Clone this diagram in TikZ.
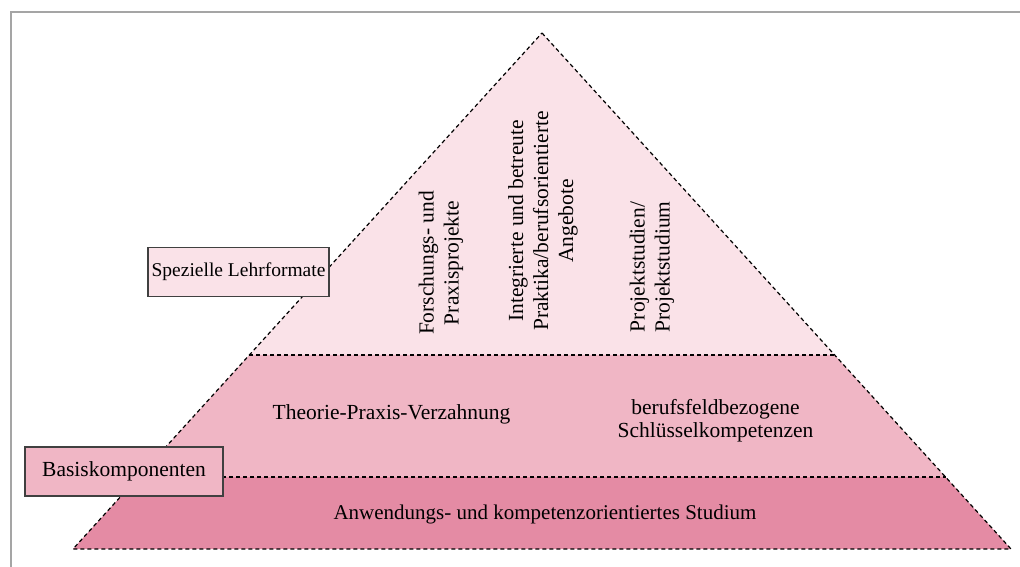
\documentclass[tikz,border=0pt]{standalone}
\usepackage{fontspec}
\setmainfont{Liberation Serif}
\usetikzlibrary{calc}

\definecolor{topfill}{RGB}{250,226,232}
\definecolor{midfill}{RGB}{240,182,197}
\definecolor{lowfill}{RGB}{228,139,164}
\definecolor{framegray}{RGB}{165,165,165}
\definecolor{boxline}{RGB}{64,64,64}

\tikzset{
  cut/.style={line width=1.2pt,dash pattern=on 4pt off 3pt},
  lbox/.style={draw=boxline,line width=1.3pt,minimum height=49pt,inner xsep=3pt},
  txt/.style={align=center,font=\fontsize{21.5}{25}\selectfont},
  vtxt/.style={txt,rotate=90}
}

\begin{document}
\begin{tikzpicture}[x=1pt,y=-1pt]
  \useasboundingbox (0,0) rectangle (1020,567);
  % outer frame
  \draw[framegray,line width=2pt] (1020,12.5) -- (10.5,12.5) -- (10.5,567);

  % pyramid corners
  \coordinate (apex) at (542,33);
  \coordinate (bl) at (73,549);
  \coordinate (br) at (1011,549);
  \coordinate (ml) at ($(apex)!0.624!(bl)$);
  \coordinate (mr) at ($(apex)!0.624!(br)$);
  \coordinate (ll) at ($(apex)!0.8605!(bl)$);
  \coordinate (lr) at ($(apex)!0.8605!(br)$);

  % tiers
  \fill[topfill] (apex) -- (mr) -- (ml) -- cycle;
  \fill[midfill] (ml) -- (mr) -- (lr) -- (ll) -- cycle;
  \fill[lowfill] (ll) -- (lr) -- (br) -- (bl) -- cycle;
  \draw[cut] (apex) -- (br) -- (bl) -- cycle;
  \draw[cut] (ml) -- (mr);
  \draw[cut] (ll) -- (lr);

  % top tier
  \node[vtxt] (fp) at (441,263) {Forschungs- und\\Praxisprojekte};
  \node[vtxt] (ip) at (543,221) {Integrierte und betreute\\Praktika/berufsorientierte\\Angebote};
  \node[vtxt] (ps) at (652,267) {Projektstudien/\\Projektstudium};

  % middle tier
  \node[txt] (tp) at (391.5,414) {Theorie-Praxis-Verzahnung};
  \node[txt,font=\fontsize{21.5}{23}\selectfont] (bs) at (715.5,421) {berufsfeldbezogene\\Schlüsselkompetenzen};

  % bottom tier
  \node[txt,font=\fontsize{21}{25}\selectfont] (ak) at (545,514) {Anwendungs- und kompetenzorientiertes Studium};

  % side labels
  \node[lbox,fill=topfill,txt,font=\fontsize{19.5}{22}\selectfont,minimum width=181pt] (sl) at (238.5,272) {Spezielle Lehrformate};
  \node[lbox,fill=midfill,txt,minimum width=198pt] (bk) at (124,471.5) {Basiskomponenten};
\end{tikzpicture}
\end{document}
